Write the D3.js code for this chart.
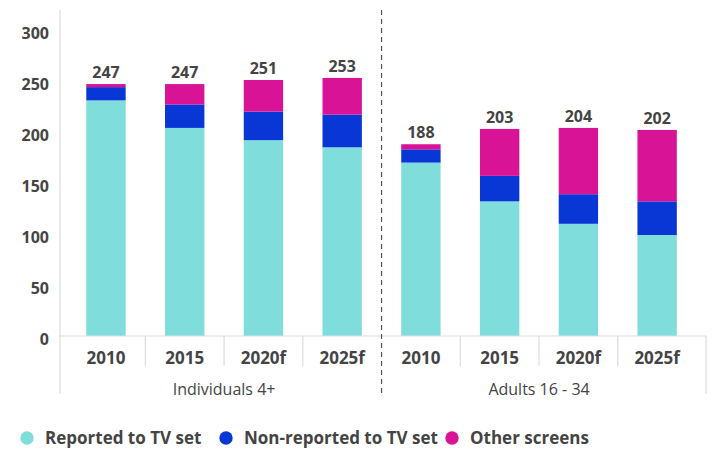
<!DOCTYPE html>
<html>
<head>
<meta charset="utf-8">
<script src="https://cdn.jsdelivr.net/npm/d3@7"></script>
<style>
  body { margin: 0; background: #fff; }
  svg { font-family: "Open Sans", sans-serif; }
</style>
</head>
<body>
<script>
// data
const groups = ["Individuals 4+", "Adults 16 - 34"];
const years = ["2010", "2015", "2020f", "2025f"];
const seriesNames = ["Reported to TV set", "Non-reported to TV set", "Other screens"];
const reported    = [231, 204, 192, 185, 170, 132, 110, 99];
const nonReported = [13, 23, 28, 32, 13, 25, 29, 33];
const otherScreens = [3, 20, 31, 36, 5, 46, 65, 70];
const totals = [247, 247, 251, 253, 188, 203, 204, 202];
const yTicks = [0, 50, 100, 150, 200, 250, 300];
const colors = ["#7fdedc", "#0837d6", "#d81396"];

const width = 712, height = 449;
const textColor = "#444";

const svg = d3.select("body")
    .append("svg")
    .attr("width", width)
    .attr("height", height);

// one row per bar
const rows = [];
groups.forEach(function(g, gi) {
    years.forEach(function(yr, yi) {
        const i = gi * years.length + yi;
        rows.push({
            key: g + "|" + yr, group: g, year: yr,
            "Reported to TV set": reported[i],
            "Non-reported to TV set": nonReported[i],
            "Other screens": otherScreens[i],
            total: totals[i]
        });
    });
});

const x = d3.scaleBand()
    .domain(rows.map(d => d.key))
    .range([66.6, 696.5])
    .paddingInner(0.5)
    .paddingOuter(0.25);

const y = d3.scaleLinear()
    .domain([0, 300])
    .range([336, 30]);

const axisLeftX = 60, axisRightX = 706, axisTop = 10, axisBottom = 394;
const gridColor = "#dcdcdc";

// y axis labels
svg.append("g")
    .selectAll("text")
    .data(yTicks)
    .join("text")
    .attr("x", 49)
    .attr("y", d => y(d) + 3)
    .attr("dy", "0.35em")
    .attr("text-anchor", "end")
    .style("font-size", "16px")
    .style("font-weight", "700")
    .style("fill", textColor)
    .text(d => d);

// stacked bars
const stack = d3.stack().keys(seriesNames);
const stacked = stack(rows);

svg.append("g")
    .selectAll("g")
    .data(stacked)
    .join("g")
    .attr("fill", (d, i) => colors[i])
    .selectAll("rect")
    .data(d => d)
    .join("rect")
    .attr("x", d => x(d.data.key))
    .attr("y", d => y(d[1]))
    .attr("width", x.bandwidth())
    .attr("height", d => y(d[0]) - y(d[1]));

// totals
svg.append("g")
    .selectAll("text")
    .data(rows)
    .join("text")
    .attr("x", d => x(d.key) + x.bandwidth() / 2)
    .attr("y", d => y(d3.sum(seriesNames, k => d[k])) - 6)
    .attr("text-anchor", "middle")
    .style("font-size", "16px")
    .style("font-weight", "700")
    .style("fill", textColor)
    .text(d => d.total);

// axis lines
const lines = svg.append("g").attr("stroke", gridColor).attr("stroke-width", 1.2);
lines.append("line")
    .attr("x1", axisLeftX).attr("x2", axisLeftX)
    .attr("y1", axisTop).attr("y2", axisBottom);
lines.append("line")
    .attr("x1", axisLeftX).attr("x2", axisRightX)
    .attr("y1", y(0)).attr("y2", y(0));
lines.append("line")
    .attr("x1", axisRightX).attr("x2", axisRightX)
    .attr("y1", y(0)).attr("y2", axisBottom);

// dividers between year categories
const step = x.step();
const dividers = rows.slice(1).map(d => x(d.key) - x.paddingInner() * step / 2)
    .filter((d, i) => i !== years.length - 1);
lines.selectAll(".div")
    .data(dividers)
    .join("line")
    .attr("x1", d => d).attr("x2", d => d)
    .attr("y1", y(0)).attr("y2", y(0) + 30);

// dashed separator between the two groups
const sepX = x(rows[years.length].key) - x.paddingInner() * step / 2;
svg.append("line")
    .attr("x1", sepX).attr("x2", sepX)
    .attr("y1", axisTop).attr("y2", axisBottom)
    .attr("stroke", "#555")
    .attr("stroke-width", 1.2)
    .attr("stroke-dasharray", "5,4");

// year labels
svg.append("g")
    .selectAll("text")
    .data(rows)
    .join("text")
    .attr("x", d => x(d.key) + x.bandwidth() / 2)
    .attr("y", 358)
    .attr("dy", "0.35em")
    .attr("text-anchor", "middle")
    .style("font-size", "17px")
    .style("font-weight", "700")
    .style("fill", textColor)
    .text(d => d.year);

// group labels
svg.append("g")
    .selectAll("text")
    .data(groups)
    .join("text")
    .attr("x", function(g) {
        const keys = rows.filter(r => r.group === g).map(r => r.key);
        const a = x(keys[0]), b = x(keys[keys.length - 1]) + x.bandwidth();
        return (a + b) / 2;
    })
    .attr("y", 389)
    .attr("dy", "0.35em")
    .attr("text-anchor", "middle")
    .style("font-size", "16px")
    .style("fill", textColor)
    .text(d => d);

// legend
const legendX = [27, 226, 452];
const legend = svg.append("g")
    .selectAll("g")
    .data(seriesNames)
    .join("g")
    .attr("transform", (d, i) => `translate(${legendX[i]},438)`);
legend.append("circle")
    .attr("r", 6.7)
    .attr("fill", (d, i) => colors[i]);
legend.append("text")
    .attr("x", 18)
    .attr("dy", "0.35em")
    .style("font-size", "17px")
    .style("font-weight", "700")
    .style("fill", textColor)
    .text(d => d);
</script>
</body>
</html>
